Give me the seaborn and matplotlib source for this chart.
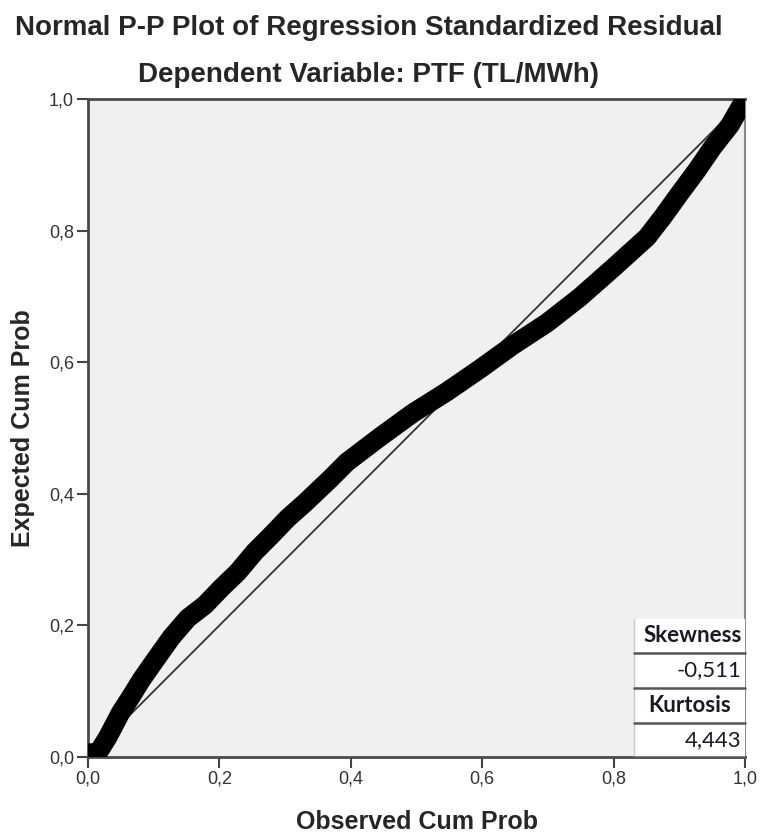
import matplotlib
matplotlib.use("Agg")
import matplotlib.pyplot as plt
import seaborn as sns
import pandas as pd
from matplotlib.patches import Rectangle

# Data
observed = [0.0, 0.015, 0.030, 0.050, 0.065, 0.081, 0.102, 0.127, 0.152, 0.178,
            0.203, 0.228, 0.254, 0.279, 0.304, 0.330, 0.368, 0.394, 0.444, 0.495,
            0.546, 0.597, 0.647, 0.699, 0.749, 0.799, 0.851, 0.875, 0.901, 0.927,
            0.951, 0.977, 1.0]
expected = [0.006, 0.006, 0.030, 0.068, 0.091, 0.117, 0.147, 0.182, 0.211, 0.231,
            0.257, 0.281, 0.312, 0.337, 0.363, 0.386, 0.422, 0.448, 0.486, 0.523,
            0.555, 0.590, 0.626, 0.660, 0.699, 0.743, 0.790, 0.821, 0.857, 0.892,
            0.927, 0.960, 1.0]
ref_line = [0.0, 1.0]
ticks = [0.0, 0.2, 0.4, 0.6, 0.8, 1.0]
tick_labels = ["0,0", "0,2", "0,4", "0,6", "0,8", "1,0"]
stat_names = ["Skewness", "Kurtosis"]
stat_values = ["-0,511", "4,443"]

sns.set_theme(style="white")
plt.rcParams["font.family"] = ["Liberation Sans", "DejaVu Sans"]

fig = plt.figure(figsize=(7.61, 8.33), dpi=100)
ax = fig.add_axes([88 / 761, 76 / 833, 657 / 761, 658 / 833])
ax.set_facecolor("#F0F0F0")

df = pd.DataFrame({"obs": observed, "exp": expected})
sns.lineplot(data=pd.DataFrame({"x": ref_line, "y": ref_line}), x="x", y="y",
             ax=ax, color="#333333", lw=1.3, zorder=2)
sns.lineplot(data=df, x="obs", y="exp", ax=ax, color="black", lw=14,
             solid_capstyle="round", solid_joinstyle="round", zorder=3, sort=False)

ax.set_xlim(0, 1)
ax.set_ylim(0, 1)
ax.set_xticks(ticks)
ax.set_xticklabels(tick_labels, fontsize=13, color="#333333")
ax.set_yticks(ticks)
ax.set_yticklabels(tick_labels, fontsize=13, color="#333333")
ax.tick_params(axis="both", direction="out", length=8, width=1.5, color="#444444",
               bottom=True, left=True, pad=2)

for side in ["left", "bottom", "top"]:
    ax.spines[side].set_color("#4a4a4a")
    ax.spines[side].set_linewidth(2)
ax.spines["right"].set_color("#8a8a8a")
ax.spines["right"].set_linewidth(1.5)

ax.set_xlabel("Observed Cum Prob", fontsize=18, fontweight="bold", labelpad=16)
ax.set_ylabel("Expected Cum Prob", fontsize=18, fontweight="bold", labelpad=10)

fig.text(0.5 * (10 + 727) / 761, 1 - 28 / 833,
         "Normal P-P Plot of Regression Standardized Residual",
         ha="center", va="center", fontsize=20, fontweight="bold")
fig.text(368 / 761, 1 - 75 / 833, "Dependent Variable: PTF (TL/MWh)",
         ha="center", va="center", fontsize=20, fontweight="bold")

# Statistics box
x0 = (634 - 88) / 657
x1 = 1.0
rows_px = [619, 653, 688, 723, 758]
rows = [(757 - r) / 658 for r in rows_px]
ax.add_patch(Rectangle((x0, 0), x1 - x0, rows[0], transform=ax.transAxes,
                       facecolor="white", edgecolor="none", zorder=5, clip_on=False))
ax.plot([x0, x0], [0, rows[0]], transform=ax.transAxes, color="#c8c8c8", lw=1,
        zorder=6, clip_on=False)
for r in rows[1:4]:
    ax.plot([x0, x1], [r, r], transform=ax.transAxes, color="#555555", lw=1.8,
            zorder=6, clip_on=False)
ax.plot([x0, x1], [0, 0], transform=ax.transAxes, color="#555555", lw=1.8,
        zorder=6, clip_on=False)
labels = [stat_names[0], stat_values[0], stat_names[1], stat_values[1]]
for i, lab in enumerate(labels):
    yc = 0.5 * (rows[i] + rows[i + 1])
    bold = i % 2 == 0
    if i == 2:
        xt, ha = 0.5 * (x0 + x1), "center"
    else:
        xt, ha = x1 - 0.005, "right"
    ax.text(xt, yc, lab, transform=ax.transAxes, ha=ha, va="center",
            fontsize=16, fontweight="bold" if bold else "normal",
            color="#1a1a24", family=["Lato", "DejaVu Sans"], zorder=7)

fig.savefig("out.png", dpi=100)
